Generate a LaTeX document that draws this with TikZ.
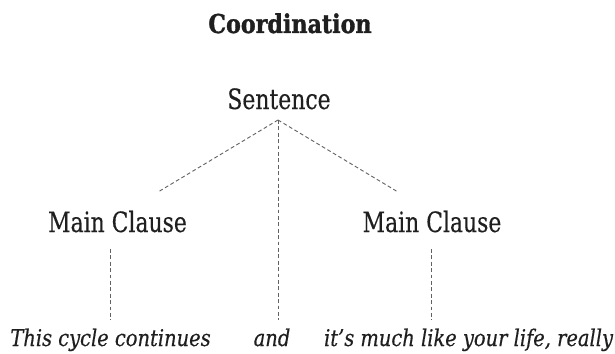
\documentclass[tikz,border=0pt]{standalone}
\usepackage{fontspec}
\setmainfont{DejaVu Serif Condensed}
\newfontfamily\headfont{DejaVu Serif Condensed Bold}[FakeStretch=0.95,FakeBold=1.2]
\newfontfamily\nodefont{DejaVu Serif Condensed}[FakeStretch=0.87,FakeBold=0.3]
\newfontfamily\leaffont{DejaVu Serif Condensed Italic}[FakeStretch=0.94,FakeBold=0.4]
\begin{document}
\begin{tikzpicture}[x=1pt,y=-1pt,
  lbl/.style={anchor=base,inner sep=0pt,text=black!88},
  titletext/.style={lbl,font=\headfont\fontsize{26}{30}\selectfont},
  nodetext/.style={lbl,font=\nodefont\fontsize{28}{32}\selectfont},
  leaftext/.style={lbl,font=\leaffont\fontsize{23}{27}\selectfont},
  link/.style={draw=black!62,line width=0.9pt,dash pattern=on 3.8pt off 2.6pt}]
  \useasboundingbox (0,0) rectangle (615,353);

  % labels
  \node[titletext] (title) at (290,33) {Coordination};
  \node[nodetext] (sent) at (279,109) {Sentence};
  \node[nodetext] (mcl) at (117.5,232) {Main Clause};
  \node[nodetext] (mcr) at (432,232) {Main Clause};
  \node[leaftext] (leafl) at (110.5,346) {This cycle continues};
  \node[leaftext] (leafc) at (272,346) {and};
  \node[leaftext] (leafr) at (468.5,346) {it’s much like your life, really};

  % connector end points
  \coordinate (apex) at (278,120);
  \coordinate (mclTop) at (158,192);
  \coordinate (mcrTop) at (398,192);
  \coordinate (mclBot) at (110.7,249);
  \coordinate (mcrBot) at (431,249);
  \coordinate (leaflTop) at (110.7,320);
  \coordinate (leafcTop) at (278,320);
  \coordinate (leafrTop) at (431,320);

  % tree branches
  \draw[link] (apex) -- (mclTop);
  \draw[link] (apex) -- (mcrTop);
  \draw[link] (apex) -- (leafcTop);
  \draw[link] (mclBot) -- (leaflTop);
  \draw[link] (mcrBot) -- (leafrTop);
\end{tikzpicture}
\end{document}
